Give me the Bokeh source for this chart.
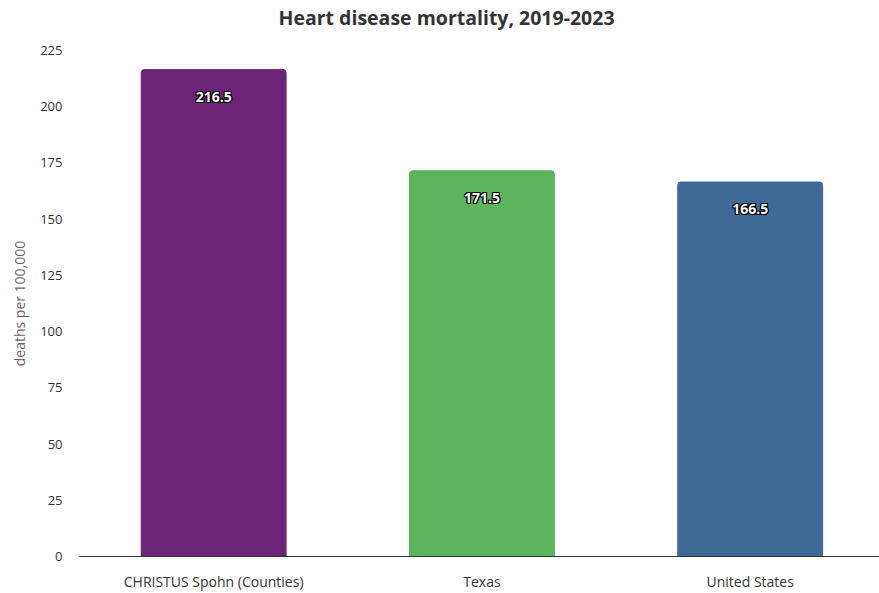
from bokeh.plotting import figure
from bokeh.models import ColumnDataSource, Range1d, Title
from bokeh.embed import file_html
from bokeh.resources import INLINE
from bokeh.core.properties import value

title_text = "Heart disease mortality, 2019-2023"
categories = ["CHRISTUS Spohn (Counties)", "Texas", "United States"]
values = [216.5, 171.5, 166.5]
colors = ["#6b2477", "#5cb45e", "#3e6a97"]
labels = ["216.5", "171.5", "166.5"]
y_ticks = [0, 25, 50, 75, 100, 125, 150, 175, 200, 225]

xpos = [i + 0.5 for i in range(len(categories))]
src = ColumnDataSource(dict(x=xpos, cat=categories, val=values, color=colors, label=labels))

p = figure(width=879, height=593, output_backend="svg", toolbar_location=None,
           title=None,
           x_range=Range1d(0, 2.982),
           y_range=Range1d(0, 225),
           min_border_left=79, min_border_right=0, min_border_top=50, min_border_bottom=36)
p.outline_line_color = None
p.background_fill_color = "white"
p.border_fill_color = "white"

spacer = Title(text=" ", text_font="Open Sans", text_font_size="13.5px", standoff=0)
p.add_layout(spacer, "above")
main_title = Title(text=title_text, align="left", offset=199, standoff=0,
                   text_font="Open Sans", text_font_size="19.5px", text_font_style="bold",
                   text_color="#333333")
p.add_layout(main_title, "above")

p.vbar(x="x", top="val", width=0.54, color="color", source=src,
       border_radius={"top_left": 3, "top_right": 3, "bottom_right": 0, "bottom_left": 0})

# outlined labels
for dx, dy in [(-1, 0), (1, 0), (0, -1), (0, 1), (-1, -1), (1, 1), (-1, 1), (1, -1)]:
    p.text(x="x", y="val", text="label", source=src, text_align="center",
           text_baseline="middle", x_offset=dx, y_offset=27 + dy,
           text_font=value("Open Sans"), text_font_size="14px", text_font_style="bold",
           text_color="black")
p.text(x="x", y="val", text="label", source=src, text_align="center",
       text_baseline="middle", x_offset=0, y_offset=27,
       text_font=value("Open Sans"), text_font_size="14px", text_font_style="bold",
       text_color="white")

p.xgrid.grid_line_color = None
p.ygrid.grid_line_color = None

p.yaxis.ticker = y_ticks
p.yaxis.axis_line_color = None
p.yaxis.major_tick_line_color = None
p.yaxis.minor_tick_line_color = None
p.yaxis.major_tick_out = 0
p.yaxis.major_tick_in = 0
p.yaxis.major_label_text_font = "Open Sans"
p.yaxis.major_label_text_font_size = "13px"
p.yaxis.major_label_text_color = "#333333"
p.yaxis.major_label_standoff = 17
p.yaxis.axis_label = "deaths per 100,000"
p.yaxis.axis_label_text_font = "Open Sans"
p.yaxis.axis_label_text_font_size = "14px"
p.yaxis.axis_label_text_font_style = "normal"
p.yaxis.axis_label_text_color = "#666666"
p.yaxis.axis_label_standoff = 8

p.xaxis.ticker = xpos
p.xaxis.major_label_overrides = {x: c for x, c in zip(xpos, categories)}
p.xaxis.axis_line_color = "#333333"
p.xaxis.axis_line_width = 1
p.xaxis.major_tick_line_color = None
p.xaxis.minor_tick_line_color = None
p.xaxis.major_tick_out = 0
p.xaxis.major_tick_in = 0
p.xaxis.major_label_text_font = "Open Sans"
p.xaxis.major_label_text_font_size = "14px"
p.xaxis.major_label_text_color = "#333333"
p.xaxis.major_label_standoff = 15

open("out.html", "w").write(file_html(p, INLINE))
